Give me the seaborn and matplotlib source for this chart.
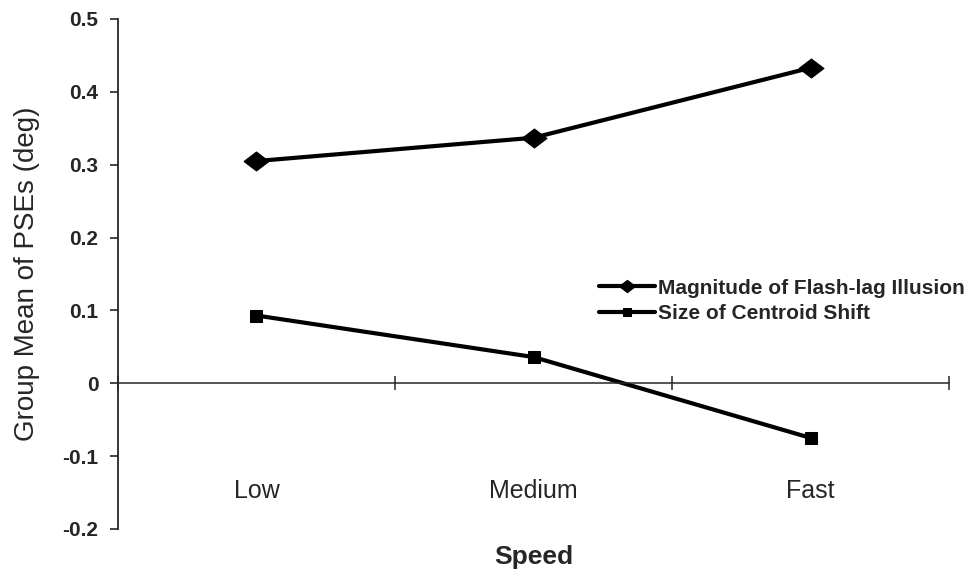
import matplotlib
matplotlib.use("Agg")
import matplotlib.pyplot as plt
import pandas as pd
import numpy as np
import seaborn as sb

# data
speeds = ["Low", "Medium", "Fast"]
flash_lag = [0.305, 0.337, 0.433]
centroid_shift = [0.093, 0.036, -0.075]
series_names = ["Magnitude of Flash-lag Illusion", "Size of Centroid Shift"]
y_ticks = [-0.2, -0.1, 0.0, 0.1, 0.2, 0.3, 0.4, 0.5]
y_tick_labels = ["-0.2", "-0.1", "0", "0.1", "0.2", "0.3", "0.4", "0.5"]

sb.set_style("white")
plt.rcParams["font.family"] = ["Liberation Sans", "DejaVu Sans"]

df = pd.DataFrame({
    "Speed": speeds * 2,
    "PSE": flash_lag + centroid_shift,
    "Series": [series_names[0]] * 3 + [series_names[1]] * 3,
})

fig = plt.figure(figsize=(9.79, 5.75), dpi=100)
ax = fig.add_axes([0.1205, 0.080, 0.849, 0.887])

# wide diamond like the original Excel marker
diamond = [(-1, 0), (0, 0.76), (1, 0), (0, -0.76), (-1, 0)]
styles = {series_names[0]: (diamond, 18), series_names[1]: ("s", 8.5)}

for name in series_names:
    mk, ms = styles[name]
    sb.lineplot(data=df[df["Series"] == name], x="Speed", y="PSE", ax=ax,
                color="black", linewidth=3.0, marker=mk, markersize=ms,
                markeredgecolor="black", label=name, sort=False)

ax.set_xlim(-0.5, 2.5)
ax.set_ylim(-0.2, 0.5)
ax.set_yticks(y_ticks)
ax.set_yticklabels(y_tick_labels, fontsize=15, fontweight="bold")
ax.tick_params(axis="y", direction="out", length=6, width=1.2, pad=8, left=True)

# x axis sits at zero with ticks between categories
ax.spines["bottom"].set_position(("data", 0))
ax.spines["top"].set_visible(False)
ax.spines["right"].set_visible(False)
ax.spines["left"].set_linewidth(1.3)
ax.spines["bottom"].set_linewidth(1.1)
ax.set_xticks([-0.5, 0.5, 1.5, 2.5])
ax.set_xticklabels([])
ax.tick_params(axis="x", direction="inout", length=10, width=1.1, bottom=True)

for i, s in enumerate(speeds):
    ax.text(i, -0.148, s, ha="center", va="center", fontsize=18)

ax.set_xlabel("")
ax.set_ylabel("Group Mean of PSEs (deg)", fontsize=20, labelpad=16)
ax.text(0.5, -0.055, "Speed", transform=ax.transAxes, ha="center", va="center",
        fontsize=19, fontweight="bold")

leg = ax.legend(loc="upper left", bbox_to_anchor=(0.569, 0.507), frameon=False,
                prop={"size": 15, "weight": "bold"}, handlelength=2.7,
                handletextpad=0.1, labelspacing=0.3, markerscale=0.65,
                borderaxespad=0)

fig.savefig("out.png", dpi=100, facecolor="white")
